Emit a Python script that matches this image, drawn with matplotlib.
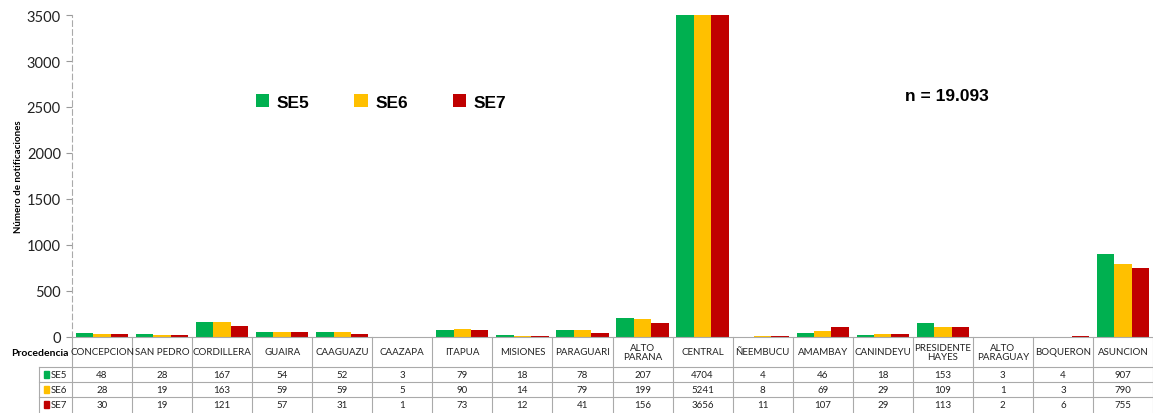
import matplotlib
matplotlib.use("Agg")
import matplotlib.pyplot as plt
from matplotlib.patches import Rectangle
import numpy as np

plt.rcParams["font.family"] = ["Lato", "DejaVu Sans"]

places = ["CONCEPCION", "SAN PEDRO", "CORDILLERA", "GUAIRA", "CAAGUAZU", "CAAZAPA",
          "ITAPUA", "MISIONES", "PARAGUARI", "ALTO\nPARANA", "CENTRAL", "ÑEEMBUCU",
          "AMAMBAY", "CANINDEYU", "PRESIDENTE\nHAYES", "ALTO\nPARAGUAY", "BOQUERON",
          "ASUNCION"]
se5 = [48, 28, 167, 54, 52, 3, 79, 18, 78, 207, 4704, 4, 46, 18, 153, 3, 4, 907]
se6 = [28, 19, 163, 59, 59, 5, 90, 14, 79, 199, 5241, 8, 69, 29, 109, 1, 3, 790]
se7 = [30, 19, 121, 57, 31, 1, 73, 12, 41, 156, 3656, 11, 107, 29, 113, 2, 6, 755]
series = [("SE5", se5, "#00B050"), ("SE6", se6, "#FFC000"), ("SE7", se7, "#C00000")]

W, H = 1153, 414
fig = plt.figure(figsize=(W / 100, H / 100), dpi=100)
ax = fig.add_axes([72 / W, (H - 338) / H, (W - 72) / W, 322 / H])

x = np.arange(len(places))
w = 0.29
for k, (name, vals, col) in enumerate(series):
    ax.bar(x + (k - 1) * w, vals, w, color=col, label=name, zorder=2)

ax.set_xlim(-0.5, len(places) - 0.5)
ax.set_ylim(0, 3500)
ax.set_yticks(np.arange(0, 3501, 500))
ax.tick_params(axis="y", labelsize=10.5, length=4, color="#999999", pad=4, labelcolor="#222222")
ax.set_xticks([])
for s in ["top", "right", "bottom"]:
    ax.spines[s].set_visible(False)
ax.spines["left"].set_color("#aaaaaa")
ax.spines["left"].set_linestyle((0, (5, 3)))
ax.set_ylabel("Número de notificaciones", fontsize=7, fontweight="bold", labelpad=3)

leg = ax.legend(loc="center", bbox_to_anchor=(0.286, 0.73), ncol=3, frameon=False,
                prop={"family": "Liberation Sans", "weight": "bold", "size": 12.5},
                handlelength=0.75, handleheight=0.75, handletextpad=0.45, columnspacing=2.6)
ax.text(0.771, 0.75, "n = 19.093", transform=ax.transAxes, fontsize=12.5,
        fontweight="bold", family="Liberation Sans", ha="left", va="center")

# data table under the bars
tr = ax.get_xaxis_transform()
ph = 322.0
hdr = 30 / ph
rh = 15 / ph
lc = "#aaaaaa"
ytop = 0
ybot = -(hdr + 3 * rh)
ax.plot([-0.5, len(places) - 0.5], [0, 0], transform=tr, color=lc, lw=0.8, clip_on=False)
for i in range(len(places) + 1):
    ax.plot([i - 0.5, i - 0.5], [ytop, ybot], transform=tr, color=lc, lw=0.8, clip_on=False)
for j in range(1, 4):
    yy = -(hdr + (j - 1) * rh)
    ax.plot([-1.05, len(places) - 0.5], [yy, yy], transform=tr, color=lc, lw=0.8, clip_on=False)
ax.plot([-1.05, -1.05], [-hdr, ybot], transform=tr, color=lc, lw=0.8, clip_on=False)
for i, p in enumerate(places):
    ax.text(i, -hdr / 2, p, transform=tr, ha="center", va="center", fontsize=7,
            color="#222222", clip_on=False, linespacing=1.1)
for j, (name, vals, col) in enumerate(series):
    yc = -(hdr + (j + 0.5) * rh)
    for i, v in enumerate(vals):
        ax.text(i, yc, str(v), transform=tr, ha="center", va="center", fontsize=7,
                color="#222222", clip_on=False)
    ax.add_patch(Rectangle((-0.97, yc - 0.011), 0.09, 0.022, transform=tr,
                           color=col, clip_on=False))
    ax.text(-0.85, yc, name, transform=tr, ha="left", va="center", fontsize=7,
            color="#222222", clip_on=False)
ax.text(-0.55, -0.048, "Procedencia", transform=tr, ha="right", va="center",
        fontsize=7.5, fontweight="bold", clip_on=False)

fig.savefig("out.png", dpi=100)
